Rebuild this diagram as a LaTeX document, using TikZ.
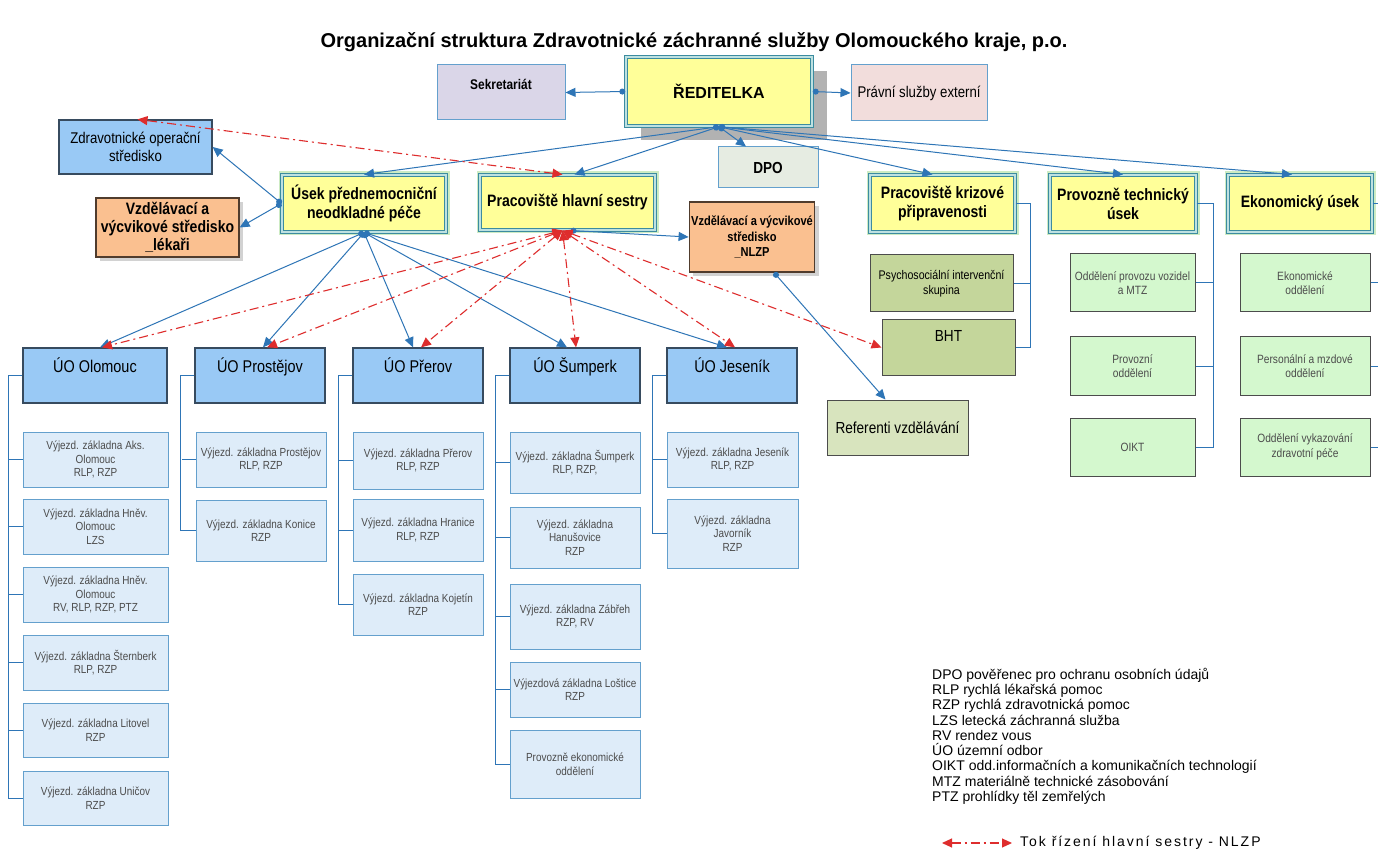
\documentclass[tikz,border=0pt]{standalone}
\usepackage{fontspec}
\setmainfont{Liberation Sans}
\newfontfamily\nrw[FakeStretch=0.85]{Liberation Sans}
\usetikzlibrary{arrows.meta,shadows,positioning}
\definecolor{zlut}{RGB}{255,255,153}
\definecolor{tyrk}{RGB}{60,140,160}
\definecolor{svtyrk}{RGB}{190,225,225}
\definecolor{zelzar}{RGB}{205,235,195}
\definecolor{modra}{RGB}{46,117,182}
\definecolor{uomodra}{RGB}{153,201,245}
\definecolor{bridlice}{RGB}{55,75,95}
\definecolor{svmodra}{RGB}{222,236,249}
\definecolor{okraj}{RGB}{100,160,205}
\definecolor{oranz}{RGB}{250,192,144}
\definecolor{hneda}{RGB}{80,60,45}
\definecolor{oliva}{RGB}{196,214,155}
\definecolor{svoliva}{RGB}{216,228,190}
\definecolor{zelena}{RGB}{212,248,206}
\definecolor{fialova}{RGB}{218,214,232}
\definecolor{ruzova}{RGB}{242,221,220}
\definecolor{sedozel}{RGB}{230,236,226}
\definecolor{cervena}{RGB}{222,45,45}
\tikzset{
  box/.style={rectangle,draw,align=center,inner sep=2pt},
  usek/.style={box,fill=zlut,draw=tyrk,double=svtyrk,double distance=1.5pt,line width=1pt,
    preaction={draw=zelzar,line width=7pt},font=\nrw\bfseries\fontsize{16.5}{19}\selectfont},
  reditel/.style={box,fill=zlut,draw=tyrk,double=svtyrk,double distance=1.5pt,line width=1.4pt,
    drop shadow={shadow xshift=15pt,shadow yshift=-14pt,fill=black!30,opacity=1},
    font=\bfseries\fontsize{16}{18}\selectfont},
  malybox/.style={box,draw=okraj,line width=1pt,font=\nrw\fontsize{15.5}{17}\selectfont},
  stred/.style={box,fill=oranz,draw=hneda,line width=1.2pt,
    drop shadow={shadow xshift=4pt,shadow yshift=-4pt,opacity=.35},
    font=\nrw\bfseries\fontsize{16.5}{18}\selectfont},
  uo/.style={box,fill=uomodra,draw=bridlice,line width=1.3pt,minimum height=55pt,text depth=20pt,
    font=\nrw\fontsize{17}{19}\selectfont},
  vyj/.style={box,fill=svmodra,draw=okraj,line width=1pt,text=black!70,
    font=\nrw\fontsize{11.7}{13.5}\selectfont},
  olivy/.style={box,fill=oliva,draw=black!70,line width=1pt,font=\nrw\fontsize{12.5}{15}\selectfont},
  zel/.style={box,fill=zelena,draw=black!70,line width=1pt,minimum width=125pt,minimum height=58pt,
    text=black!70,font=\nrw\fontsize{12}{14.5}\selectfont},
  spoj/.style={draw=modra,line width=1pt,{Circle[length=6pt]}-{Triangle[length=10pt,width=9pt]}},
  rizeni/.style={draw=cervena,line width=1.1pt,dash pattern=on 9pt off 4pt on 2pt off 4pt,
    {Triangle[length=10pt,width=9pt]}-{Triangle[length=10pt,width=9pt]}},
  vetev/.style={draw=modra,line width=1pt},
  legenda/.style={align=left,inner sep=0pt,font=\fontsize{14}{15.25}\selectfont}
}
\begin{document}
\begin{tikzpicture}[x=1pt,y=-1pt]%
\fill[white] (0,0) rectangle (1378,858);%%
\useasboundingbox (0,0) rectangle (1378,858);%%
%%TITULEK
\node[font=\bfseries\fontsize{20}{22}\selectfont] (tit) at (694,42) {Organizační struktura Zdravotnické záchranné služby Olomouckého kraje, p.o.};%%
%%VEDENI
\node[reditel,minimum width=186pt,minimum height=69pt,text depth=0pt] (red) at (719,91.5) {ŘEDITELKA};%%
\node[malybox,fill=fialova,font=\nrw\bfseries\fontsize{14}{16}\selectfont,minimum width=128pt,minimum height=55pt,text depth=16pt] (sek) at (501,92.5) {Sekretariát};%%
\node[malybox,fill=ruzova,minimum width=136pt,minimum height=56pt] (prav) at (919,93) {Právní služby externí};%%
\node[malybox,fill=sedozel,font=\nrw\bfseries\fontsize{16}{18}\selectfont,minimum width=100pt,minimum height=41pt] (dpo) at (768,167.5) {DPO};%%
%%USEKY
\node[box,fill=uomodra,draw=bridlice,line width=1.3pt,font=\nrw\fontsize{15.5}{17.5}\selectfont,minimum width=153pt,minimum height=54pt] (zos) at (135.5,147) {Zdravotnické operační\\středisko};%%
\node[usek,minimum width=164pt,minimum height=57pt] (upnp) at (364,203.5) {Úsek přednemocniční\\neodkladné péče};%%
\node[usek,minimum width=175pt,minimum height=55pt] (phs) at (567.5,202.5) {Pracoviště hlavní sestry};%%
\node[stred,minimum width=143pt,minimum height=59pt] (vvsl) at (167.5,227.5) {Vzdělávací a\\výcvikové středisko\\\_lékaři};%%
\node[stred,font=\nrw\bfseries\fontsize{13}{15.5}\selectfont,minimum width=120pt,minimum height=70pt] (vvsn) at (752,237) {Vzdělávací a výcvikové\\středisko\\\_NLZP};%%
\node[usek,minimum width=145pt,minimum height=57pt] (pkp) at (942.5,203.5) {Pracoviště krizové\\připravenosti};%%
\node[usek,minimum width=146pt,minimum height=57pt] (ptu) at (1123,203.5) {Provozně technický\\úsek};%%
\node[usek,minimum width=144pt,minimum height=57pt] (eku) at (1300,203.5) {Ekonomický úsek};%%
%%KRIZOVA PRIPRAVENOST
\node[olivy,minimum width=143pt,minimum height=57pt] (psy) at (941.5,283.5) {Psychosociální intervenční\\skupina};%%
\node[olivy,font=\nrw\fontsize{16}{18}\selectfont,minimum width=133pt,minimum height=55pt,text depth=23pt] (bht) at (948.5,347.5) {BHT};%%
\node[olivy,fill=svoliva,font=\nrw\fontsize{16}{18}\selectfont,minimum width=141pt,minimum height=55pt] (ref) at (897.5,427.5) {Referenti vzdělávání};%%
%%PROVOZNE TECHNICKY A EKONOMICKY USEK
\node[zel] (opv) at (1132.5,283) {Oddělení provozu vozidel\\a MTZ};%%
\node[zel] (pod) at (1132.5,366) {Provozní\\oddělení};%%
\node[zel] (oikt) at (1132.5,447) {OIKT};%%
\node[zel,minimum width=130pt] (eod) at (1305,283) {Ekonomické\\oddělení};%%
\node[zel,minimum width=130pt] (pmo) at (1305,366) {Personální a mzdové\\oddělení};%%
\node[zel,minimum width=130pt] (ovz) at (1305,447) {Oddělení vykazování\\zdravotní péče};%%
%%UZEMNI ODBORY
\node[uo,minimum width=144pt] (uool) at (95,375.5) {ÚO Olomouc};%%
\node[uo,minimum width=130pt] (uopv) at (260,375.5) {ÚO Prostějov};%%
\node[uo,minimum width=130pt] (uopr) at (418,375.5) {ÚO Přerov};%%
\node[uo,minimum width=130pt] (uosu) at (575,375.5) {ÚO Šumperk};%%
\node[uo,minimum width=130pt] (uoje) at (732,375.5) {ÚO Jeseník};%%
%%VYJEZDOVE ZAKLADNY
\node[vyj,minimum width=145pt,minimum height=55pt] (ol1) at (95.5,459.5) {Výjezd. základna Aks.\\Olomouc\\RLP, RZP};%%
\node[vyj,minimum width=145pt,minimum height=55pt] (ol2) at (95.5,526.5) {Výjezd. základna Hněv.\\Olomouc\\LZS};%%
\node[vyj,minimum width=145pt,minimum height=55pt] (ol3) at (95.5,594.5) {Výjezd. základna Hněv.\\Olomouc\\RV, RLP, RZP, PTZ};%%
\node[vyj,minimum width=145pt,minimum height=55pt] (ol4) at (95.5,662.5) {Výjezd. základna Šternberk\\RLP, RZP};%%
\node[vyj,minimum width=145pt,minimum height=54pt] (ol5) at (95.5,730) {Výjezd. základna Litovel\\RZP};%%
\node[vyj,minimum width=145pt,minimum height=54pt] (ol6) at (95.5,798) {Výjezd. základna Uničov\\RZP};%%
\node[vyj,minimum width=130pt,minimum height=55pt] (pv1) at (261,459.5) {Výjezd. základna Prostějov\\RLP, RZP};%%
\node[vyj,minimum width=130pt,minimum height=61pt] (pv2) at (261,530.5) {Výjezd. základna Konice\\RZP};%%
\node[vyj,minimum width=130pt,minimum height=57pt] (pr1) at (418,460.5) {Výjezd. základna Přerov\\RLP, RZP};%%
\node[vyj,minimum width=130pt,minimum height=62pt] (pr2) at (418,530) {Výjezd. základna Hranice\\RLP, RZP};%%
\node[vyj,minimum width=130pt,minimum height=61pt] (pr3) at (418,604.5) {Výjezd. základna Kojetín\\RZP};%%
\node[vyj,minimum width=130pt,minimum height=61pt] (su1) at (575,462.5) {Výjezd. základna Šumperk\\RLP, RZP,};%%
\node[vyj,minimum width=130pt,minimum height=61pt] (su2) at (575,537.5) {Výjezd. základna\\Hanušovice\\RZP};%%
\node[vyj,minimum width=130pt,minimum height=65pt] (su3) at (575,616.5) {Výjezd. základna Zábřeh\\RZP, RV};%%
\node[vyj,minimum width=130pt,minimum height=55pt] (su4) at (575,689.5) {Výjezdová základna Loštice\\RZP};%%
\node[vyj,minimum width=130pt,minimum height=68pt] (su5) at (575,764) {Provozně ekonomické\\oddělení};%%
\node[vyj,minimum width=131pt,minimum height=55pt] (je1) at (732.5,459.5) {Výjezd. základna Jeseník\\RLP, RZP};%%
\node[vyj,minimum width=131pt,minimum height=69pt] (je2) at (732.5,533.5) {Výjezd. základna\\Javorník\\RZP};%%
%%STROMY
\draw[vetev] (uool.west) -- ++(-14,0) |- (ol6.west);%%
\draw[vetev] (ol1.west) -- ++(-14,0);%%
\draw[vetev] (ol2.west) -- ++(-14,0);%%
\draw[vetev] (ol3.west) -- ++(-14,0);%%
\draw[vetev] (ol4.west) -- ++(-14,0);%%
\draw[vetev] (ol5.west) -- ++(-14,0);%%
\draw[vetev] (uopv.west) -- ++(-14,0) |- (pv2.west);%%
\draw[vetev] (pv1.west) -- ++(-14,0);%%
\draw[vetev] (uopr.west) -- ++(-14,0) |- (pr3.west);%%
\draw[vetev] (pr1.west) -- ++(-14,0);%%
\draw[vetev] (pr2.west) -- ++(-14,0);%%
\draw[vetev] (uosu.west) -- ++(-14,0) |- (su5.west);%%
\draw[vetev] (su1.west) -- ++(-14,0);%%
\draw[vetev] (su2.west) -- ++(-14,0);%%
\draw[vetev] (su3.west) -- ++(-14,0);%%
\draw[vetev] (su4.west) -- ++(-14,0);%%
\draw[vetev] (uoje.west) -- ++(-14,0) |- (je2.west);%%
\draw[vetev] (je1.west) -- ++(-14,0);%%
\draw[vetev] (pkp.east) -- ++(15,0) |- (bht.east);%%
\draw[vetev] (psy.east) -- ++(17,0);%%
\draw[vetev] (ptu.east) -- ++(17,0) |- (oikt.east);%%
\draw[vetev] (opv.east) -- ++(18,0);%%
\draw[vetev] (pod.east) -- ++(18,0);%%
\draw[vetev] (eku.east) -- ++(12,0);%%
\draw[vetev] (eod.east) -- ++(12,0);%%
\draw[vetev] (pmo.east) -- ++(12,0);%%
\draw[vetev] (ovz.east) -- ++(12,0);%%
%%PODRIZENOST
\draw[spoj] (red.west) -- (sek.east);%%
\draw[spoj] (red.east) -- (prav.west);%%
\draw[spoj] (red.south) -- (upnp.north);%%
\draw[spoj] (red.south) -- ([xshift=7]phs.north);%%
\draw[spoj] (red.south) -- ([xshift=-22]dpo.north);%%
\draw[spoj] (red.south) -- ([xshift=-10]pkp.north);%%
\draw[spoj] (red.south) -- (ptu.north);%%
\draw[spoj] (red.south) -- ([xshift=-8]eku.north);%%
\draw[spoj] (upnp.west) -- (zos.east);%%
\draw[spoj] (upnp.west) -- (vvsl.east);%%
\draw[spoj] ([xshift=3]phs.south) -- (vvsn.west);%%
\draw[spoj] ([xshift=22]vvsn.south) -- ([xshift=-12]ref.north);%%
\draw[spoj] (upnp.south) -- ([xshift=5]uool.north);%%
\draw[spoj] (upnp.south) -- ([xshift=3]uopv.north);%%
\draw[spoj] (upnp.south) -- ([xshift=-5]uopr.north);%%
\draw[spoj] (upnp.south) -- ([xshift=-8]uosu.north);%%
\draw[spoj] (upnp.south) -- ([xshift=-5]uoje.north);%%
%%TOK RIZENI HLAVNI SESTRY
\draw[rizeni] ([xshift=-5]phs.north) -- ([xshift=2]zos.north);%%
\draw[rizeni] ([xshift=-5]phs.south) -- ([xshift=7]uool.north);%%
\draw[rizeni] ([xshift=-5]phs.south) -- ([xshift=7]uopv.north);%%
\draw[rizeni] ([xshift=-5]phs.south) -- ([xshift=3]uopr.north);%%
\draw[rizeni] ([xshift=-5]phs.south) -- ([xshift=1]uosu.north);%%
\draw[rizeni] ([xshift=-5]phs.south) -- ([xshift=3]uoje.north);%%
\draw[rizeni] ([xshift=-5]phs.south) -- (bht.west);%%
%%LEGENDA
\node[legenda,anchor=north west] (leg) at (932,668) {DPO pověřenec pro ochranu osobních údajů\\RLP rychlá lékařská pomoc\\RZP rychlá zdravotnická pomoc\\LZS letecká záchranná služba\\RV rendez vous\\ÚO územní odbor\\OIKT odd.informačních a komunikačních technologií\\MTZ materiálně technické zásobování\\PTZ prohlídky těl zemřelých};%%
\coordinate (lega) at (942,843);%%
\coordinate (legb) at (1012,843);%%
\draw[rizeni] (lega) -- (legb);%%
\node[legenda,anchor=west,font=\addfontfeature{LetterSpace=14}\fontsize{14}{15.25}\selectfont] (legt) at (1020,843) {Tok řízení hlavní sestry - NLZP};%%
\end{tikzpicture}
\end{document}
